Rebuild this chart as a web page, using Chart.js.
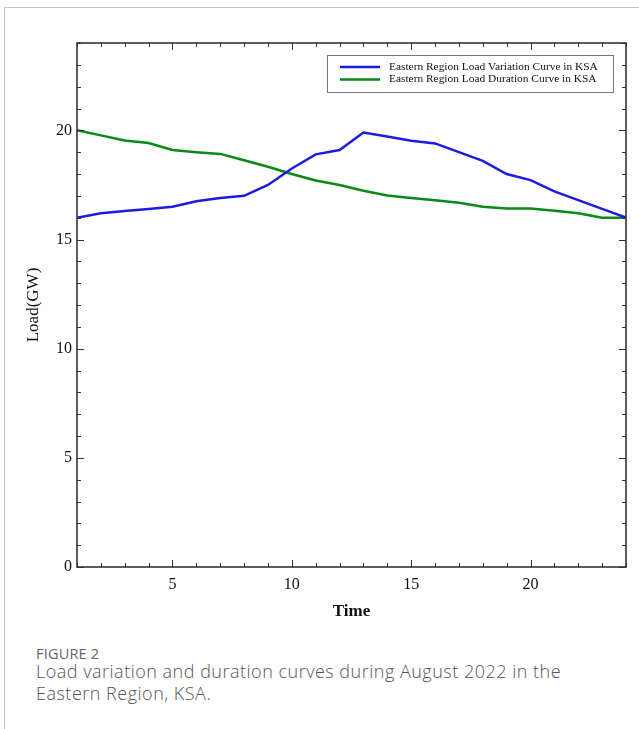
<!DOCTYPE html>
<html>
<head>
<meta charset="utf-8">
<script src="https://cdn.jsdelivr.net/npm/chart.js@4.4.1/dist/chart.umd.min.js"></script>
<style>
  html, body { margin: 0; padding: 0; background: #fff; }
  body { width: 639px; height: 729px; position: relative; overflow: hidden; }
  #card { position: absolute; left: 4px; top: 7px; right: -2px; bottom: -2px;
          border-left: 1px solid #c8c8c8; border-top: 1px solid #c8c8c8; }
  #wrap { position: absolute; left: 0; top: 0; width: 639px; height: 640px; }
  #fig { position: absolute; left: 36px; top: 644px; font-family: "Open Sans", sans-serif;
         font-size: 14.5px; color: #666; letter-spacing: 0.2px; }
  #cap { position: absolute; left: 36px; top: 660px; width: 600px; font-family: "Open Sans", sans-serif;
         font-size: 18px; line-height: 22px; color: #555; font-weight: 300; letter-spacing: 0.5px; white-space: nowrap; }
</style>
</head>
<body>
<div id="card"></div>
<div id="wrap"><canvas id="graphCanvas" width="639" height="640"></canvas></div>
<div id="fig">FIGURE 2</div>
<div id="cap">Load variation and duration curves during August 2022 in the<br>Eastern Region, KSA.</div>
<script>
// hours of the day
var hours = [1, 2, 3, 4, 5, 6, 7, 8, 9, 10, 11, 12, 13, 14, 15, 16, 17, 18, 19, 20, 21, 22, 23, 24];
// Load (GW)
var variationLoad = [16.0, 16.2, 16.3, 16.4, 16.5, 16.75, 16.9, 17.0, 17.5, 18.25, 18.9, 19.1, 19.9, 19.72, 19.52, 19.4, 19.0, 18.6, 18.0, 17.72, 17.2, 16.8, 16.4, 16.0];
var durationLoad = [20.0, 19.77, 19.53, 19.42, 19.1, 19.0, 18.92, 18.63, 18.33, 18.0, 17.7, 17.5, 17.23, 17.02, 16.9, 16.8, 16.68, 16.5, 16.42, 16.42, 16.32, 16.2, 16.0, 16.0];
var xLabeled = [5, 10, 15, 20];
var yLabeled = [0, 5, 10, 15, 20];

var serif = '"Liberation Serif", "Times New Roman", serif';

function pairs(ys) {
    var out = [];
    for (var i in hours) {
        out.push({ x: hours[i], y: ys[i] });
    }
    return out;
}

// frame, inward ticks and the boxed legend
var frameTicks = {
    id: 'frameTicks',
    afterDraw: function (chart) {
        var ctx = chart.ctx;
        var a = chart.chartArea;
        var xs = chart.scales.x;
        var ys = chart.scales.y;
        ctx.save();
        ctx.strokeStyle = '#333';
        ctx.lineWidth = 1;
        ctx.beginPath();
        xs.ticks.forEach(function (t) {
            var px = Math.round(xs.getPixelForValue(t.value)) + 0.5;
            var len = xLabeled.indexOf(t.value) >= 0 ? 7 : 4;
            ctx.moveTo(px, a.bottom); ctx.lineTo(px, a.bottom - len);
            ctx.moveTo(px, a.top); ctx.lineTo(px, a.top + len);
        });
        ys.ticks.forEach(function (t) {
            var py = Math.round(ys.getPixelForValue(t.value)) + 0.5;
            var len = yLabeled.indexOf(t.value) >= 0 ? 7 : 4;
            ctx.moveTo(a.left, py); ctx.lineTo(a.left + len, py);
            ctx.moveTo(a.right, py); ctx.lineTo(a.right - len, py);
        });
        ctx.stroke();
        ctx.lineWidth = 1.6;
        ctx.strokeStyle = '#333';
        ctx.strokeRect(a.left, a.top, a.right - a.left, a.bottom - a.top);

        // legend box
        var bx = 327, by = 55, bw = 286, bh = 37;
        ctx.fillStyle = '#fff';
        ctx.fillRect(bx, by, bw, bh);
        ctx.lineWidth = 1;
        ctx.strokeStyle = '#777';
        ctx.strokeRect(bx + 0.5, by + 0.5, bw, bh);
        ctx.font = '11.4px ' + serif;
        ctx.textBaseline = 'middle';
        chart.data.datasets.forEach(function (ds, i) {
            var ly = by + 12 + i * 12.5;
            ctx.strokeStyle = ds.borderColor;
            ctx.lineWidth = 2.5;
            ctx.beginPath();
            ctx.moveTo(bx + 13, ly); ctx.lineTo(bx + 53, ly);
            ctx.stroke();
            ctx.fillStyle = '#111';
            ctx.fillText(ds.label, bx + 62, ly);
        });
        ctx.restore();
    }
};

var chartdata = {
    datasets: [
        {
            label: 'Eastern Region Load Variation Curve in KSA',
            borderColor: 'rgb(28, 28, 225)',
            data: pairs(variationLoad),
            borderWidth: 2.5,
            pointRadius: 0,
            tension: 0,
            fill: false
        },
        {
            label: 'Eastern Region Load Duration Curve in KSA',
            borderColor: 'rgb(8, 138, 24)',
            data: pairs(durationLoad),
            borderWidth: 2.5,
            pointRadius: 0,
            tension: 0,
            fill: false
        }
    ]
};

var graphTarget = document.getElementById('graphCanvas');

var LineGraph = new Chart(graphTarget, {
    type: 'line',
    data: chartdata,
    plugins: [frameTicks],
    options: {
        responsive: false,
        animation: false,
        layout: { padding: { left: 0, right: 13, top: 43, bottom: 13 } },
        plugins: {
            legend: { display: false },
            tooltip: { enabled: false }
        },
        scales: {
            x: {
                type: 'linear',
                min: 1,
                max: 24,
                afterFit: function (s) { s.height = 60; },
                grid: { display: false, drawTicks: false },
                border: { display: false },
                ticks: {
                    stepSize: 1,
                    autoSkip: false,
                    maxRotation: 0,
                    padding: 8,
                    color: '#111',
                    font: { family: serif, size: 16 },
                    callback: function (v) { return xLabeled.indexOf(v) >= 0 ? v : ''; }
                },
                title: {
                    display: true,
                    text: 'Time',
                    color: '#111',
                    padding: { top: 0, bottom: 5 },
                    font: { family: serif, size: 17, weight: 'bold' }
                }
            },
            y: {
                min: 0,
                max: 24,
                afterFit: function (s) { s.width = 77; },
                grid: { display: false, drawTicks: false },
                border: { display: false },
                ticks: {
                    stepSize: 1,
                    autoSkip: false,
                    padding: 5,
                    color: '#111',
                    font: { family: serif, size: 16 },
                    callback: function (v) { return yLabeled.indexOf(v) >= 0 ? v : ''; }
                },
                title: {
                    display: true,
                    text: 'Load(GW)',
                    color: '#111',
                    padding: { top: 23, bottom: 0 },
                    font: { family: serif, size: 17 }
                }
            }
        }
    }
});
</script>
</body>
</html>
